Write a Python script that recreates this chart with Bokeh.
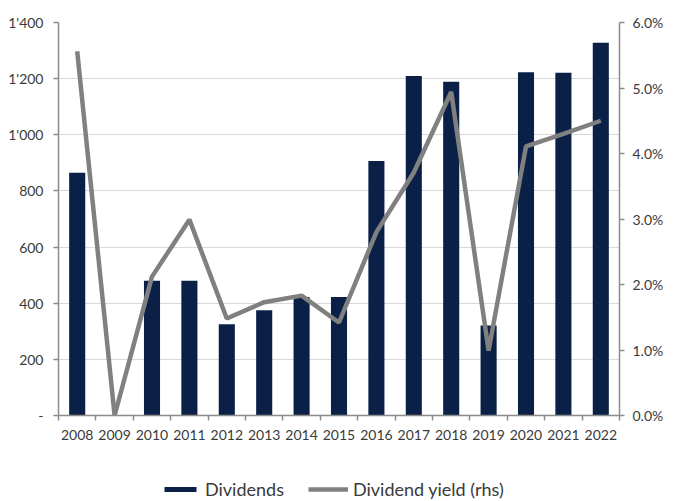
from bokeh.plotting import figure
from bokeh.layouts import column
from bokeh.models import (Range1d, LinearAxis, FixedTicker, Legend, LegendItem,
                          ColumnDataSource)
from bokeh.embed import file_html
from bokeh.resources import INLINE

# Annual dividends (left axis) and dividend yield in % (right axis)
years = [2008, 2009, 2010, 2011, 2012, 2013, 2014, 2015,
         2016, 2017, 2018, 2019, 2020, 2021, 2022]
dividends = [865, 0, 480, 480, 325, 375, 422, 422,
             907, 1209, 1189, 321, 1223, 1221, 1328]
dividend_yield = [5.56, 0.0, 2.12, 2.99, 1.48, 1.73, 1.83, 1.42,
                  2.80, 3.71, 4.94, 0.99, 4.11, 4.30, 4.50]

left_ticks = [0, 200, 400, 600, 800, 1000, 1200, 1400]
left_labels = ["-", "200", "400", "600", "800", "1'000", "1'200", "1'400"]
right_ticks = [0, 1, 2, 3, 4, 5, 6]
right_labels = ["0.0%", "1.0%", "2.0%", "3.0%", "4.0%", "5.0%", "6.0%"]

FONT = "Lato"
TEXT = "#3a3a3a"
AXIS = "#8c8c8c"
NAVY = "#0b2046"
GREY = "#808080"

src = ColumnDataSource(dict(year=years, div=dividends, yld=dividend_yield))

p = figure(width=677, height=455, output_backend="svg", toolbar_location=None,
           x_range=Range1d(years[0] - 0.5, years[-1] + 0.5),
           y_range=Range1d(0, 1400),
           min_border_left=58, min_border_right=58,
           min_border_top=22, min_border_bottom=40)
p.extra_y_ranges = {"yield": Range1d(0, 6)}
p.outline_line_color = None
p.background_fill_color = "white"
p.border_fill_color = "white"

# horizontal gridlines only
p.xgrid.grid_line_color = None
p.ygrid.grid_line_color = "#d9d9d9"
p.ygrid.grid_line_width = 1.2

bar_style = dict(width=0.43, fill_color=NAVY, line_color=None)
line_style = dict(line_color=GREY, line_width=4.5)

p.vbar(x="year", top="div", source=src, **bar_style)
p.line(x="year", y="yld", source=src, y_range_name="yield", **line_style)

# bottom axis: labels under each year, ticks at category boundaries
xa = p.xaxis[0]
xa.ticker = FixedTicker(ticks=years,
                        minor_ticks=[y - 0.5 for y in years] + [years[-1] + 0.5])
xa.major_tick_line_color = None
xa.minor_tick_in = 0
xa.minor_tick_out = 5
xa.minor_tick_line_color = AXIS
xa.minor_tick_line_width = 1.5
xa.axis_line_color = AXIS
xa.axis_line_width = 1.5
xa.major_label_standoff = 8

# left axis: dividends
ya = p.yaxis[0]
ya.ticker = FixedTicker(ticks=left_ticks)
ya.major_label_overrides = {t: l for t, l in zip(left_ticks, left_labels)}
ya.minor_tick_line_color = None
ya.major_tick_in = 0
ya.major_tick_out = 5
ya.major_label_standoff = 10

# right axis: dividend yield
ra = LinearAxis(y_range_name="yield", ticker=FixedTicker(ticks=right_ticks))
ra.major_label_overrides = {t: l for t, l in zip(right_ticks, right_labels)}
ra.minor_tick_line_color = None
ra.major_tick_in = 0
ra.major_tick_out = 5
ra.major_label_standoff = 8
p.add_layout(ra, "right")

for ax in (ya, ra):
    ax.axis_line_color = AXIS
    ax.axis_line_width = 1.5
    ax.major_tick_line_color = AXIS
    ax.major_tick_line_width = 1.5

for ax in (xa, ya, ra):
    ax.major_label_text_font = FONT
    ax.major_label_text_font_size = "14px"
    ax.major_label_text_color = TEXT

# legend strip under the chart
lg = figure(width=677, height=46, output_backend="svg", toolbar_location=None,
            x_range=Range1d(0, 1), y_range=Range1d(0, 1),
            min_border_left=0, min_border_right=0,
            min_border_top=0, min_border_bottom=0)
lg.axis.visible = False
lg.grid.visible = False
lg.outline_line_color = None
lg_bar = lg.vbar(x="year", top="div", source=src, visible=False, **bar_style)
lg_line = lg.line(x="year", y="yld", source=src, visible=False, **line_style)

legend = Legend(items=[LegendItem(label="Dividends", renderers=[lg_bar]),
                       LegendItem(label="Dividend yield (rhs)", renderers=[lg_line])],
                orientation="horizontal", location=(102, 1),
                glyph_width=40, glyph_height=6, label_standoff=5, spacing=24,
                label_text_font=FONT, label_text_font_size="18px",
                label_text_color=TEXT, background_fill_alpha=0,
                inactive_fill_alpha=0,
                border_line_color=None, padding=0, margin=0)
lg.add_layout(legend, "center")

with open("out.html", "w") as f:
    f.write(file_html(column(p, lg, spacing=0), INLINE))
